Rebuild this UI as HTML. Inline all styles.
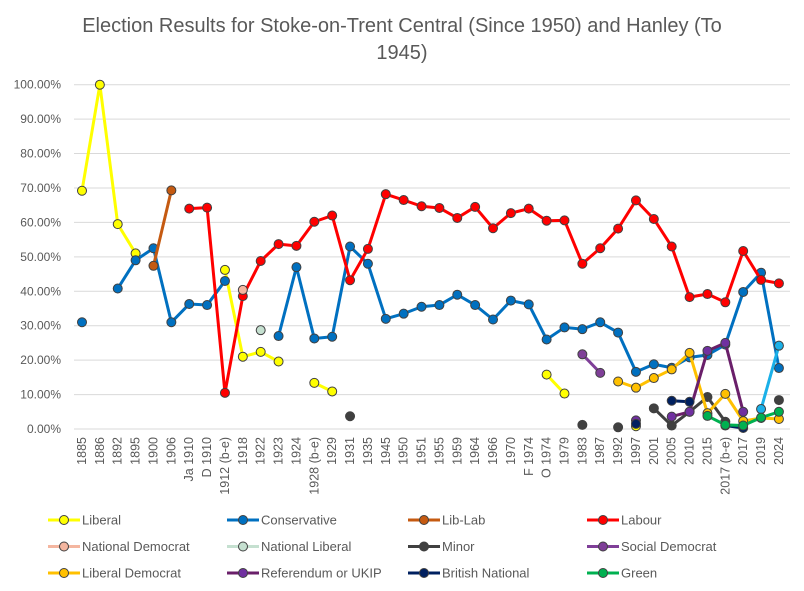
<!DOCTYPE html>
<html><head><meta charset="utf-8"><style>
body{margin:0;background:#fff;}
svg{display:block;font-family:"Liberation Sans",sans-serif;}
</style></head><body>
<svg id="c" width="804" height="591" xmlns="http://www.w3.org/2000/svg"></svg>
<script>
const svg=document.getElementById('c');
const labels=["1885","1886","1892","1895","1900","1906","Ja 1910","D 1910","1912 (b-e)","1918","1922","1923","1924","1928 (b-e)","1929","1931","1935","1945","1950","1951","1955","1959","1964","1966","1970","F 1974","O 1974","1979","1983","1987","1992","1997","2001","2005","2010","2015","2017 (b-e)","2017","2019","2024"];
const X=i=>82+i*17.87, Y=v=>429-v*3.443;
let h='';
h+='<rect x="0" y="0" width="804" height="591" fill="#fff"/>';
h+='<text x="402" y="32" text-anchor="middle" font-size="20" fill="#595959">Election Results for Stoke-on-Trent Central (Since 1950) and Hanley (To</text>';
h+='<text x="402" y="59" text-anchor="middle" font-size="20" fill="#595959">1945)</text>';
for(let p=0;p<=100;p+=10){const y=Y(p);h+=`<line x1="74" x2="790" y1="${y}" y2="${y}" stroke="#d9d9d9" stroke-width="1"/>`;
h+=`<text x="61" y="${y+4}" text-anchor="end" font-size="12" fill="#595959">${p.toFixed(2)}%</text>`;}
labels.forEach((l,i)=>{h+=`<text transform="translate(${X(i)+4},437) rotate(-90)" text-anchor="end" font-size="12.5" fill="#595959">${l}</text>`;});
const idx=l=>labels.indexOf(l);
function series(col,mk,segs,w=3){segs.forEach(s=>{if(s.length>1){h+=`<polyline fill="none" stroke="${col}" stroke-width="${w}" stroke-linejoin="round" points="${s.map(p=>X(idx(p[0]))+','+Y(p[1])).join(' ')}"/>`;}});
segs.forEach(s=>s.forEach(p=>{h+=`<circle cx="${X(idx(p[0]))}" cy="${Y(p[1])}" r="4.5" fill="${mk}" stroke="#404040" stroke-width="1"/>`;}));}
series('#ffff00','#ffff00',[[["1885",69.2],["1886",100],["1892",59.5],["1895",51]],[["1912 (b-e)",46.2],["1918",21],["1922",22.4],["1923",19.6]],[["1928 (b-e)",13.4],["1929",10.9]],[["O 1974",15.8],["1979",10.3]],[["1997",0.8]]]);
series('#0070c0','#0070c0',[[["1885",31]],[["1892",40.8],["1895",49],["1900",52.5],["1906",31],["Ja 1910",36.3],["D 1910",36],["1912 (b-e)",43]],[["1923",27],["1924",47],["1928 (b-e)",26.3],["1929",26.8],["1931",53],["1935",48],["1945",32],["1950",33.5],["1951",35.5],["1955",36],["1959",39],["1964",36],["1966",31.8],["1970",37.3],["F 1974",36.2],["O 1974",26],["1979",29.5],["1983",29],["1987",31],["1992",28],["1997",16.6],["2001",18.8],["2005",17.8],["2010",20.8],["2015",21.5],["2017 (b-e)",24.5],["2017",39.8],["2019",45.4],["2024",17.7]]]);
series('#c55a11','#c55a11',[[["1900",47.4],["1906",69.3]]]);
series('#ff0000','#ff0000',[[["Ja 1910",64],["D 1910",64.3],["1912 (b-e)",10.5],["1918",38.6],["1922",48.8],["1923",53.7],["1924",53.2],["1928 (b-e)",60.2],["1929",62],["1931",43.2],["1935",52.3],["1945",68.2],["1950",66.5],["1951",64.7],["1955",64.2],["1959",61.3],["1964",64.5],["1966",58.3],["1970",62.7],["F 1974",64],["O 1974",60.5],["1979",60.6],["1983",48],["1987",52.5],["1992",58.2],["1997",66.4],["2001",61],["2005",53],["2010",38.3],["2015",39.2],["2017 (b-e)",36.8],["2017",51.7],["2019",43.3],["2024",42.3]]]);
series('#f4b6a0','#f4b6a0',[[["1918",40.4]]]);
series('#c5e0d0','#c5e0d0',[[["1922",28.7]]]);
series('#404040','#404040',[[["1931",3.7]],[["1983",1.2]],[["1992",0.5]],[["2001",6],["2005",1],["2010",5],["2015",9.3],["2017 (b-e)",2.1]],[["2024",8.4]]]);
series('#7f3f98','#7f3f98',[[["1983",21.7],["1987",16.3]]]);
series('#ffc000','#ffc000',[[["1992",13.8],["1997",12],["2001",14.8],["2005",17.3],["2010",22.1],["2015",4.6],["2017 (b-e)",10.2],["2017",2.3],["2019",3.2],["2024",2.9]]]);
series('#1ab0e8','#1ab0e8',[[["2019",5.8],["2024",24.2]]]);
series('#6a1f6a','#7030a0',[[["1997",2.5]],[["2005",3.6],["2010",5],["2015",22.7],["2017 (b-e)",25],["2017",5]]]);
series('#002060','#002060',[[["1997",1.5]],[["2005",8.2],["2010",7.9]],[["2017 (b-e)",1],["2017",0.3]]]);
series('#00b050','#00b050',[[["2015",3.8],["2017 (b-e)",1.2],["2017",1],["2019",3.3],["2024",5]]]);
const leg=[["Liberal","#ffff00","#ffff00"],["Conservative","#0070c0","#0070c0"],["Lib-Lab","#c55a11","#c55a11"],["Labour","#ff0000","#ff0000"],["National Democrat","#f4b6a0","#f4b6a0"],["National Liberal","#c5e0d0","#c5e0d0"],["Minor","#404040","#404040"],["Social Democrat","#7f3f98","#7f3f98"],["Liberal Democrat","#ffc000","#ffc000"],["Referendum or UKIP","#6a1f6a","#7030a0"],["British National","#002060","#002060"],["Green","#00b050","#00b050"]];
const cx=[48,227,408,587];
leg.forEach((l,i)=>{const x=cx[i%4],y=520+Math.floor(i/4)*26.5;
h+=`<line x1="${x}" x2="${x+32}" y1="${y}" y2="${y}" stroke="${l[1]}" stroke-width="3"/>`;
h+=`<circle cx="${x+16}" cy="${y}" r="4.5" fill="${l[2]}" stroke="#404040" stroke-width="1"/>`;
h+=`<text x="${x+34}" y="${y+4.5}" font-size="13" fill="#595959">${l[0]}</text>`;});
svg.innerHTML=h;
</script>
</body></html>
